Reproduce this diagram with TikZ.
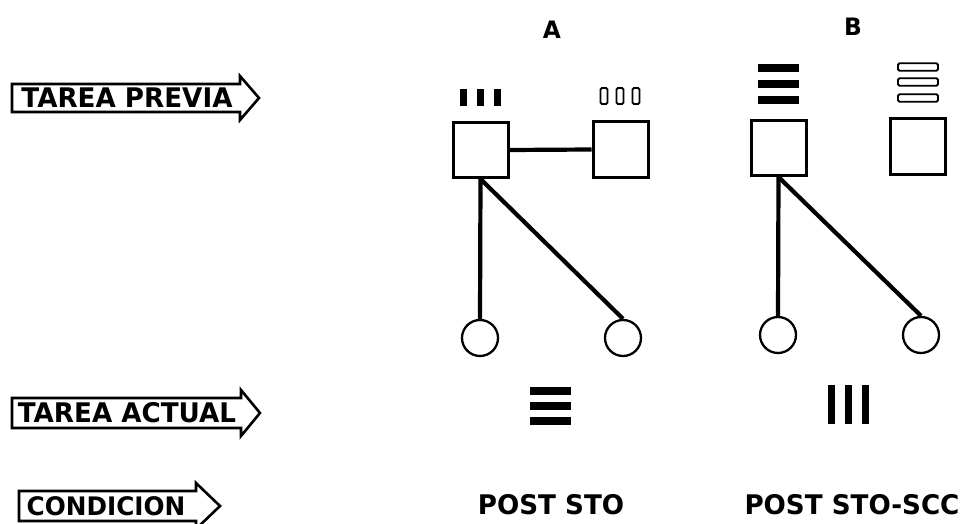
\documentclass[tikz,border=0pt]{standalone}
\usepackage{fontspec}
\newfontfamily\pix[FakeStretch=0.97]{DejaVu Sans}
\tikzset{
  lbl/.style={font=\pix\bfseries\fontsize{27}{29}\selectfont, inner sep=0pt},
  frame/.style={draw=black, line width=2.6pt, line join=miter},
  sq/.style={draw=black, line width=3pt, rectangle, minimum width=55pt, minimum height=55pt, inner sep=0pt},
  circ/.style={draw=black, line width=2.3pt, circle, minimum size=36pt, inner sep=0pt},
  link/.style={draw=black, line width=4.2pt},
  fbar/.style={fill=black, rectangle, inner sep=0pt},
  obar/.style={draw=black, line width=1.9pt, rectangle, rounded corners=1.5pt, inner sep=0pt},
  vb/.style={minimum width=7pt},
  hb/.style={minimum height=7.5pt, minimum width=41pt}
}
\begin{document}
\begin{tikzpicture}[x=1pt,y=-1pt]
\useasboundingbox (0,0) rectangle (966,524);
% left labelled arrows
\draw[frame] (12,84) -- (240,84) -- (240,76) -- (259,98) -- (240,120) -- (240,112) -- (12,112) -- cycle;
\node[lbl] (tp) at (127,98) {TAREA PREVIA};
\draw[frame] (12,398) -- (241,398) -- (241,390) -- (260,413) -- (241,436) -- (241,428) -- (12,428) -- cycle;
\node[lbl] (ta) at (127,413) {TAREA ACTUAL};
\draw[frame] (19,491) -- (196,491) -- (196,483) -- (220,506) -- (196,529) -- (196,521) -- (19,521) -- cycle;
\node[lbl,font=\pix\bfseries\fontsize{25.5}{27}\selectfont] (co) at (106,506) {CONDICION};
% column headings
\node[lbl,font=\pix\bfseries\fontsize{24}{26}\selectfont] (hA) at (552,30) {A};
\node[lbl,font=\pix\bfseries\fontsize{24}{26}\selectfont] (hB) at (853,27) {B};
% A: previous-task bars
\node[fbar,vb,minimum height=17pt] (pa11) at (463,98) {};
\node[fbar,vb,minimum height=17pt] (pa12) at (480,98) {};
\node[fbar,vb,minimum height=17pt] (pa13) at (497,98) {};
\node[obar,vb,minimum height=16pt] (pa21) at (604,96) {};
\node[obar,vb,minimum height=16pt] (pa22) at (620,96) {};
\node[obar,vb,minimum height=16pt] (pa23) at (636,96) {};
% B: previous-task bars
\node[fbar,hb] (pb11) at (778.5,68) {};
\node[fbar,hb] (pb12) at (778.5,84) {};
\node[fbar,hb] (pb13) at (778.5,100) {};
\node[obar,hb,minimum width=40pt] (pb21) at (918,67) {};
\node[obar,hb,minimum width=40pt] (pb22) at (918,82) {};
\node[obar,hb,minimum width=40pt] (pb23) at (918,98) {};
% squares
\node[sq] (a1) at (480.5,150) {};
\node[sq] (a2) at (620.5,149.5) {};
\node[sq] (b1) at (778.5,148) {};
\node[sq] (b2) at (917.5,146.5) {};
% circles
\node[circ] (ca1) at (480,338) {};
\node[circ] (ca2) at (623,338) {};
\node[circ] (cb1) at (778,335) {};
\node[circ] (cb2) at (921,335) {};
% connectors
\draw[link] (a1.east) -- (a2.west);
\draw[link] (a1.south) -- (ca1.north);
\draw[link] (a1.south) -- (ca2.north);
\draw[link] (b1.south) -- (cb1.north);
\draw[link] (b1.south) -- (cb2.north);
% current-task bars
\node[fbar,hb] (ta1) at (550.5,391) {};
\node[fbar,hb] (ta2) at (550.5,406) {};
\node[fbar,hb] (ta3) at (550.5,421) {};
\node[fbar,vb,minimum height=39pt] (tb1) at (831,404) {};
\node[fbar,vb,minimum height=39pt] (tb2) at (848,404) {};
\node[fbar,vb,minimum height=39pt] (tb3) at (865,404) {};
% conditions
\node[lbl] (cA) at (551,505) {POST STO};
\node[lbl] (cB) at (852,505) {POST STO-SCC};
\end{tikzpicture}
\end{document}
